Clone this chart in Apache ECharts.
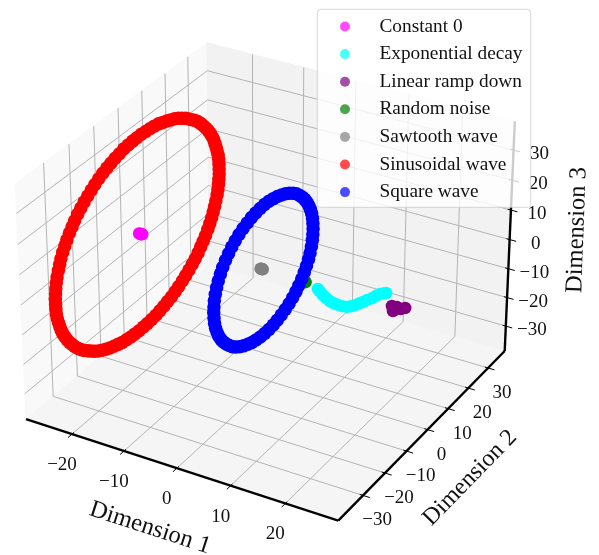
<!DOCTYPE html>
<html>
<head>
<meta charset="utf-8">
<style>
  html, body { margin: 0; padding: 0; background: #fff; }
  #main { width: 599px; height: 555px; }
</style>
<script src="https://cdn.jsdelivr.net/npm/echarts@6/dist/echarts.min.js"></script>
</head>
<body>
<div id="main"></div>
<script>
// values are [dimension 1, dimension 2, dimension 3]
var seriesNames = ['Constant 0', 'Exponential decay', 'Linear ramp down', 'Random noise', 'Sawtooth wave', 'Sinusoidal wave', 'Square wave'];
var seriesColors = ['#ff00ff', '#00ffff', '#800080', '#008000', '#808080', '#ff0000', '#0000ff'];
var seriesSizes = [12.5, 12.5, 12.5, 12.5, 12.5, 13.5, 13.5];

var constantZero = [[-24.9, -1.2, 0.2], [-24.75, -1.2, 0.2], [-24.6, -1.2, 0.2], [-24.45, -1.2, 0.2], [-24.3, -1.2, 0.2]];

var exponentialDecay = [
  [9.3, -1.2, -1.1], [9.7, -1.2, -1.8], [10.2, -1.2, -2.6], [10.8, -1.2, -3.3], [11.5, -1.2, -4.0], [12.2, -1.2, -4.3],
  [13.0, -1.2, -4.5], [13.8, -1.2, -4.5], [14.7, -1.2, -4.3], [15.4, -1.2, -3.7], [16.2, -1.2, -2.9], [16.9, -1.2, -2.0],
  [17.6, -1.2, -1.1], [18.4, -1.2, 0.0], [19.3, -1.2, 1.1], [20.0, -1.2, 2.2], [20.7, -1.2, 3.2], [21.3, -1.2, 3.7], [21.8, -1.2, 4.1]
];

var linearRampDown = [[22.9, -1.2, 0.35], [23.3, -1.2, -0.8], [23.8, -1.2, 0.5], [24.5, -1.2, 0.2], [25.3, -1.2, 0.95], [23.1, -1.2, -1.2]];

var randomNoise = [[6.8, -1.2, 0.0], [7.0, -1.2, 0.0], [6.9, -1.2, 0.1]];

var sawtoothWave = [[-1.45, -1.2, 0.15], [-1.35, -1.2, 0.15], [-1.25, -1.2, 0.15], [-1.15, -1.2, 0.15], [-1.05, -1.2, 0.15]];

var sinusoidalWave = [
  [-24.19, 32.7, 0], [-24.15, 32.6, 1.8], [-24.12, 32.5, 3.5], [-24.09, 32.3, 5.3], [-24.06, 32.0, 7.0], [-24.03, 31.5, 8.8],
  [-24.01, 31.0, 10.5], [-23.99, 30.4, 12.1], [-23.96, 29.8, 13.8], [-23.94, 29.0, 15.4], [-23.92, 28.2, 16.9], [-23.9, 27.2, 18.5],
  [-23.89, 26.2, 19.9], [-23.87, 25.1, 21.3], [-23.87, 24.0, 22.7], [-23.86, 22.8, 24.0], [-23.86, 21.5, 25.2], [-23.85, 20.1, 26.3],
  [-23.85, 18.7, 27.4], [-23.85, 17.3, 28.4], [-23.86, 15.7, 29.4], [-23.87, 14.2, 30.2], [-23.87, 12.6, 31.0], [-23.89, 10.9, 31.6],
  [-23.9, 9.3, 32.2], [-23.92, 7.6, 32.7], [-23.93, 5.9, 33.2], [-23.95, 4.1, 33.5], [-23.98, 2.3, 33.7], [-23.99, 0.6, 33.8],
  [-24.02, -1.2, 33.9], [-24.05, -3.0, 33.8], [-24.08, -4.7, 33.7], [-24.11, -6.5, 33.5], [-24.15, -8.3, 33.2], [-24.18, -10.0, 32.7],
  [-24.22, -11.7, 32.2], [-24.25, -13.4, 31.6], [-24.29, -15.0, 31.0], [-24.33, -16.6, 30.2], [-24.36, -18.2, 29.4], [-24.41, -19.7, 28.4],
  [-24.45, -21.1, 27.4], [-24.49, -22.5, 26.3], [-24.54, -23.9, 25.2], [-24.58, -25.2, 24.0], [-24.63, -26.4, 22.7], [-24.67, -27.6, 21.3],
  [-24.71, -28.6, 19.9], [-24.76, -29.6, 18.5], [-24.8, -30.6, 16.9], [-24.84, -31.4, 15.4], [-24.88, -32.2, 13.8], [-24.93, -32.9, 12.1],
  [-24.97, -33.4, 10.5], [-25.01, -33.9, 8.8], [-25.06, -34.4, 7.0], [-25.09, -34.7, 5.3], [-25.14, -34.9, 3.5], [-25.17, -35.0, 1.8],
  [-25.21, -35.1, 0], [-25.25, -35.0, -1.8], [-25.28, -34.9, -3.5], [-25.31, -34.7, -5.3], [-25.34, -34.4, -7.0], [-25.37, -33.9, -8.8],
  [-25.39, -33.4, -10.5], [-25.41, -32.9, -12.1], [-25.44, -32.2, -13.8], [-25.46, -31.4, -15.4], [-25.48, -30.6, -16.9], [-25.5, -29.6, -18.5],
  [-25.51, -28.6, -19.9], [-25.53, -27.6, -21.3], [-25.53, -26.4, -22.7], [-25.54, -25.2, -24.0], [-25.54, -23.9, -25.2], [-25.55, -22.5, -26.3],
  [-25.55, -21.1, -27.4], [-25.55, -19.7, -28.4], [-25.54, -18.2, -29.4], [-25.53, -16.6, -30.2], [-25.53, -15.0, -31.0], [-25.51, -13.4, -31.6],
  [-25.5, -11.7, -32.2], [-25.48, -10.0, -32.7], [-25.47, -8.3, -33.2], [-25.45, -6.5, -33.5], [-25.42, -4.7, -33.7], [-25.41, -3.0, -33.8],
  [-25.38, -1.2, -33.9], [-25.35, 0.6, -33.8], [-25.32, 2.3, -33.7], [-25.29, 4.1, -33.5], [-25.25, 5.9, -33.2], [-25.22, 7.6, -32.7],
  [-25.18, 9.3, -32.2], [-25.15, 10.9, -31.6], [-25.11, 12.6, -31.0], [-25.07, 14.2, -30.2], [-25.04, 15.7, -29.4], [-24.99, 17.3, -28.4],
  [-24.95, 18.7, -27.4], [-24.91, 20.1, -26.3], [-24.86, 21.5, -25.2], [-24.82, 22.8, -24.0], [-24.77, 24.0, -22.7], [-24.73, 25.1, -21.3],
  [-24.69, 26.2, -19.9], [-24.64, 27.2, -18.5], [-24.6, 28.2, -16.9], [-24.56, 29.0, -15.4], [-24.52, 29.8, -13.8], [-24.47, 30.4, -12.1],
  [-24.43, 31.0, -10.5], [-24.39, 31.5, -8.8], [-24.34, 32.0, -7.0], [-24.31, 32.3, -5.3], [-24.26, 32.5, -3.5], [-24.23, 32.6, -1.8]
];

var squareWave = [
  [-0.55, 20.5, 0.2], [-0.55, 20.4, 2.0], [-0.55, 20.2, 3.9], [-0.56, 19.8, 5.8], [-0.56, 19.2, 7.6], [-0.56, 18.5, 9.3],
  [-0.57, 17.6, 11.0], [-0.58, 16.6, 12.6], [-0.58, 15.4, 14.1], [-0.59, 14.1, 15.5], [-0.6, 12.8, 16.8], [-0.61, 11.3, 17.9],
  [-0.62, 9.7, 18.9], [-0.64, 8.0, 19.8], [-0.65, 6.2, 20.5], [-0.66, 4.4, 21.1], [-0.67, 2.6, 21.5], [-0.69, 0.7, 21.8],
  [-0.7, -1.2, 21.9], [-0.71, -3.1, 21.8], [-0.73, -5.0, 21.5], [-0.74, -6.8, 21.1], [-0.75, -8.6, 20.5], [-0.76, -10.4, 19.8],
  [-0.78, -12.1, 18.9], [-0.79, -13.7, 17.9], [-0.8, -15.2, 16.8], [-0.81, -16.5, 15.5], [-0.82, -17.8, 14.1], [-0.82, -19.0, 12.6],
  [-0.83, -20.0, 11.0], [-0.84, -20.9, 9.3], [-0.84, -21.6, 7.6], [-0.84, -22.2, 5.8], [-0.85, -22.6, 3.9], [-0.85, -22.8, 2.0],
  [-0.85, -22.9, 0.2], [-0.85, -22.8, -1.7], [-0.85, -22.6, -3.6], [-0.84, -22.2, -5.5], [-0.84, -21.6, -7.3], [-0.84, -20.9, -9.0],
  [-0.83, -20.0, -10.7], [-0.82, -19.0, -12.3], [-0.82, -17.8, -13.8], [-0.81, -16.5, -15.2], [-0.8, -15.2, -16.5], [-0.79, -13.7, -17.6],
  [-0.78, -12.1, -18.6], [-0.76, -10.4, -19.5], [-0.75, -8.6, -20.2], [-0.74, -6.8, -20.8], [-0.73, -5.0, -21.2], [-0.71, -3.1, -21.5],
  [-0.7, -1.2, -21.6], [-0.69, 0.7, -21.5], [-0.67, 2.6, -21.2], [-0.66, 4.4, -20.8], [-0.65, 6.2, -20.2], [-0.64, 8.0, -19.5],
  [-0.62, 9.7, -18.6], [-0.61, 11.3, -17.6], [-0.6, 12.8, -16.5], [-0.59, 14.1, -15.2], [-0.58, 15.4, -13.8], [-0.58, 16.6, -12.3],
  [-0.57, 17.6, -10.7], [-0.56, 18.5, -9.0], [-0.56, 19.2, -7.3], [-0.56, 19.8, -5.5], [-0.55, 20.2, -3.6], [-0.55, 20.4, -1.7]
];

var seriesValues = [constantZero, exponentialDecay, linearRampDown, randomNoise, sawtoothWave, sinusoidalWave, squareWave];

var xTicks = [-20, -10, 0, 10, 20];
var yTicks = [-30, -20, -10, 0, 10, 20, 30];
var zTicks = [-30, -20, -10, 0, 10, 20, 30];
var xLim = [-29, 29.5];
var yLim = [-41, 38.6];
var zLim = [-38.8, 39.5];

var FONT = '"Liberation Serif", "Times New Roman", serif';

// default 3d view: elev 30, azim -60, box aspect 4:4:3
var BOX = [1.1428, 1.1428, 0.8571];
var U = [0.866, 0.5, 0];
var V = [-0.25, 0.433, 0.866];
var W = [0.433, -0.75, 0.5];
var CAM_DIST = 10;
var PX_PER_UNIT = 3131.5;
var CENTER_X = 269.6;
var CENTER_Y = 270.7;

function project(x, y, z) {
  var d = [
    (x - xLim[0]) / (xLim[1] - xLim[0]) * BOX[0] - BOX[0] / 2,
    (y - yLim[0]) / (yLim[1] - yLim[0]) * BOX[1] - BOX[1] / 2,
    (z - zLim[0]) / (zLim[1] - zLim[0]) * BOX[2] - BOX[2] / 2
  ];
  var depth = CAM_DIST - (d[0] * W[0] + d[1] * W[1] + d[2] * W[2]);
  return [
    (d[0] * U[0] + d[1] * U[1] + d[2] * U[2]) / depth,
    (d[0] * V[0] + d[1] * V[1] + d[2] * V[2]) / depth
  ];
}

// panes, grid and axis lines
var panes = [
  { fill: '#f9f9f9', pts: [[xLim[0], yLim[0], zLim[0]], [xLim[0], yLim[1], zLim[0]], [xLim[0], yLim[1], zLim[1]], [xLim[0], yLim[0], zLim[1]]] },
  { fill: '#f2f2f2', pts: [[xLim[0], yLim[1], zLim[0]], [xLim[1], yLim[1], zLim[0]], [xLim[1], yLim[1], zLim[1]], [xLim[0], yLim[1], zLim[1]]] },
  { fill: '#f5f5f5', pts: [[xLim[0], yLim[0], zLim[0]], [xLim[1], yLim[0], zLim[0]], [xLim[1], yLim[1], zLim[0]], [xLim[0], yLim[1], zLim[0]]] }
];

var gridSegs = [];
xTicks.forEach(function (t) {
  gridSegs.push([[t, yLim[0], zLim[0]], [t, yLim[1], zLim[0]]]);
  gridSegs.push([[t, yLim[1], zLim[0]], [t, yLim[1], zLim[1]]]);
});
yTicks.forEach(function (t) {
  gridSegs.push([[xLim[0], t, zLim[0]], [xLim[1], t, zLim[0]]]);
  gridSegs.push([[xLim[0], t, zLim[0]], [xLim[0], t, zLim[1]]]);
});
zTicks.forEach(function (t) {
  gridSegs.push([[xLim[0], yLim[0], t], [xLim[0], yLim[1], t]]);
  gridSegs.push([[xLim[0], yLim[1], t], [xLim[1], yLim[1], t]]);
});

var axisSegs = [
  { w: 2.4, pts: [[xLim[0], yLim[0], zLim[0]], [xLim[1], yLim[0], zLim[0]]] },
  { w: 2.4, pts: [[xLim[1], yLim[0], zLim[0]], [xLim[1], yLim[1], zLim[0]]] },
  { w: 2.4, pts: [[xLim[1], yLim[1], zLim[0]], [xLim[1], yLim[1], zLim[1]]] }
];
xTicks.forEach(function (t) {
  axisSegs.push({ w: 1, pts: [[t, yLim[0] + 0.8, zLim[0]], [t, yLim[0] - 1.6, zLim[0]]] });
});
yTicks.forEach(function (t) {
  axisSegs.push({ w: 1, pts: [[xLim[1] - 0.6, t, zLim[0]], [xLim[1] + 1.2, t, zLim[0]]] });
});
zTicks.forEach(function (t) {
  axisSegs.push({ w: 1, pts: [[xLim[1] - 0.6, yLim[1], t], [xLim[1] + 1.2, yLim[1], t]] });
});

function tickText(t) {
  return t < 0 ? '\u2212' + (-t) : String(t);
}

// tick labels sit at a fixed pixel offset from their tick
var tickLabels = [];
xTicks.forEach(function (t) { tickLabels.push({ p: [t, yLim[0], zLim[0]], dx: -10, dy: 31, s: tickText(t) }); });
yTicks.forEach(function (t) { tickLabels.push({ p: [xLim[1], t, zLim[0]], dx: 14, dy: 25, s: tickText(t) }); });
zTicks.forEach(function (t) { tickLabels.push({ p: [xLim[1], yLim[1], t], dx: 26, dy: 4, s: tickText(t) }); });

function indexes(list) {
  return list.map(function (d, i) { return [i]; });
}

function customSeries(list, z, draw) {
  return {
    type: 'custom',
    coordinateSystem: 'cartesian2d',
    silent: true,
    clip: false,
    z: z,
    animation: false,
    data: indexes(list),
    renderItem: function (params, api) {
      return draw(list[params.dataIndex], api);
    }
  };
}

function toPixel(api, p) {
  return api.coord(project(p[0], p[1], p[2]));
}

var series = [
  customSeries(panes, 0, function (pane, api) {
    return {
      type: 'polygon',
      shape: { points: pane.pts.map(function (p) { return toPixel(api, p); }) },
      style: { fill: pane.fill, stroke: pane.fill, lineWidth: 1 }
    };
  }),
  customSeries(gridSegs, 1, function (seg, api) {
    var a = toPixel(api, seg[0]);
    var b = toPixel(api, seg[1]);
    return {
      type: 'line',
      shape: { x1: a[0], y1: a[1], x2: b[0], y2: b[1] },
      style: { stroke: '#b4b4b4', lineWidth: 1 }
    };
  }),
  customSeries(axisSegs, 1.5, function (seg, api) {
    var a = toPixel(api, seg.pts[0]);
    var b = toPixel(api, seg.pts[1]);
    return {
      type: 'line',
      shape: { x1: a[0], y1: a[1], x2: b[0], y2: b[1] },
      style: { stroke: '#000', lineWidth: seg.w }
    };
  }),
  customSeries(tickLabels, 1.5, function (lab, api) {
    var a = toPixel(api, lab.p);
    return {
      type: 'text',
      x: a[0] + lab.dx,
      y: a[1] + lab.dy,
      style: { text: lab.s, fill: '#111', fontFamily: FONT, fontSize: 19, align: 'center', verticalAlign: 'middle' }
    };
  })
];

seriesNames.forEach(function (name, i) {
  series.push({
    name: name,
    type: 'scatter',
    symbol: 'circle',
    symbolSize: seriesSizes[i],
    clip: false,
    z: 2,
    animation: false,
    itemStyle: { color: seriesColors[i], opacity: 1 },
    data: seriesValues[i].map(function (p) { return project(p[0], p[1], p[2]); })
  });
});

var option = {
  backgroundColor: '#fff',
  animation: false,
  grid: { left: 0, right: 0, top: 0, bottom: 0 },
  xAxis: { type: 'value', show: false, min: -CENTER_X / PX_PER_UNIT, max: (599 - CENTER_X) / PX_PER_UNIT },
  yAxis: { type: 'value', show: false, min: (CENTER_Y - 555) / PX_PER_UNIT, max: CENTER_Y / PX_PER_UNIT },
  legend: {
    data: seriesNames,
    orient: 'vertical',
    left: 340,
    top: 16.5,
    padding: 0,
    icon: 'circle',
    itemWidth: 59,
    itemHeight: 10,
    itemGap: 7.6,
    selectedMode: false,
    itemStyle: { opacity: 0.7 },
    textStyle: { color: '#111', fontFamily: FONT, fontSize: 19.3, lineHeight: 20 }
  },
  graphic: [
    {
      type: 'rect',
      z: 3,
      silent: true,
      shape: { x: 317.3, y: 9.3, width: 213.4, height: 198, r: 3 },
      style: { fill: 'rgba(255,255,255,0.8)', stroke: 'rgba(204,204,204,0.8)', lineWidth: 1 }
    },
    { type: 'text', x: 150, y: 528, rotation: -18 * Math.PI / 180, style: { text: 'Dimension 1', fill: '#111', fontFamily: FONT, fontSize: 24.5, align: 'center', verticalAlign: 'middle' } },
    { type: 'text', x: 470, y: 478, rotation: 45.7 * Math.PI / 180, style: { text: 'Dimension 2', fill: '#111', fontFamily: FONT, fontSize: 24, align: 'center', verticalAlign: 'middle' } },
    { type: 'text', x: 577, y: 230, rotation: 88 * Math.PI / 180, style: { text: 'Dimension 3', fill: '#111', fontFamily: FONT, fontSize: 24.5, align: 'center', verticalAlign: 'middle' } }
  ],
  series: series
};

var myChart = echarts.init(document.getElementById('main'));
myChart.setOption(option);
</script>
</body>
</html>
